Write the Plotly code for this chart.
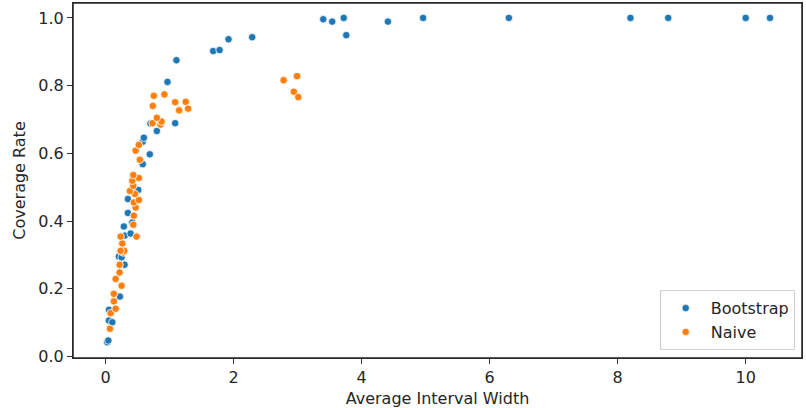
import plotly.graph_objects as go

boot_x = [0.026, 0.042, 0.051, 0.104, 0.052, 0.223, 0.207, 0.296, 0.249, 0.30, 0.39, 0.285,
          0.416, 0.348, 0.348, 0.51, 0.58, 0.69, 0.577, 0.597, 0.70, 0.80, 1.086, 0.966,
          1.106, 1.68, 1.78, 1.92, 2.29, 3.40, 3.54, 3.72, 3.76, 4.41, 4.96, 6.30, 8.20,
          8.79, 10.0, 10.38]
boot_y = [0.042, 0.047, 0.106, 0.101, 0.138, 0.177, 0.295, 0.271, 0.293, 0.357, 0.363, 0.384,
          0.396, 0.424, 0.465, 0.492, 0.568, 0.597, 0.634, 0.646, 0.688, 0.666, 0.689, 0.811,
          0.875, 0.902, 0.905, 0.937, 0.943, 0.996, 0.989, 1.0, 0.949, 0.989, 1.0, 1.0, 1.0,
          1.0, 1.0, 1.0]

naive_x = [0.067, 0.078, 0.156, 0.129, 0.129, 0.249, 0.156, 0.218, 0.218, 0.276, 0.291, 0.234,
           0.26, 0.234, 0.483, 0.432, 0.441, 0.468, 0.441, 0.519, 0.457, 0.379, 0.432, 0.416,
           0.519, 0.432, 0.535, 0.468, 0.519, 0.857, 0.873, 0.732, 0.80, 0.737, 0.753, 0.919,
           1.086, 1.251, 1.149, 1.289, 2.78, 2.99, 2.94, 3.01]
naive_y = [0.082, 0.128, 0.141, 0.163, 0.185, 0.209, 0.229, 0.248, 0.271, 0.307, 0.312, 0.312,
           0.334, 0.354, 0.354, 0.389, 0.416, 0.44, 0.455, 0.462, 0.48, 0.489, 0.504, 0.519,
           0.527, 0.536, 0.581, 0.608, 0.625, 0.685, 0.694, 0.689, 0.705, 0.740, 0.770, 0.774,
           0.751, 0.752, 0.727, 0.732, 0.816, 0.828, 0.782, 0.766]

font = "DejaVu Sans"
fig = go.Figure()
fig.add_trace(go.Scatter(x=boot_x, y=boot_y, mode="markers", name="Bootstrap",
                         marker=dict(color="#1f77b4", size=7.5, line=dict(color="white", width=0.8))))
fig.add_trace(go.Scatter(x=naive_x, y=naive_y, mode="markers", name="Naive",
                         marker=dict(color="#ff7f0e", size=7.5, line=dict(color="white", width=0.8))))

axis_common = dict(showgrid=False, zeroline=False, showline=True, linecolor="#333333", linewidth=1.2,
                   mirror=True, ticks="outside", ticklen=5, tickcolor="#333333",
                   tickfont=dict(family=font, size=16, color="#262626"))
fig.update_xaxes(range=[-0.51, 10.88], tickvals=[0, 2, 4, 6, 8, 10],
                 title=dict(text="Average Interval Width", font=dict(family=font, size=16, color="#262626"), standoff=6),
                 **axis_common)
fig.update_yaxes(range=[-0.0045, 1.044], tickvals=[0, 0.2, 0.4, 0.6, 0.8, 1.0], tickformat=".1f",
                 title=dict(text="Coverage Rate", font=dict(family=font, size=16, color="#262626"), standoff=8),
                 **axis_common)
fig.add_shape(type="rect", xref="paper", yref="paper", x0=0, y0=0, x1=1, y1=1,
              line=dict(color="#262626", width=1.5), fillcolor="rgba(0,0,0,0)", layer="above")
fig.update_layout(width=806, height=408, margin=dict(l=73, r=4, t=3, b=50, autoexpand=False),
                  plot_bgcolor="white", paper_bgcolor="white",
                  font=dict(family=font, size=16, color="#262626"),
                  legend=dict(x=0.99, y=0.022, xanchor="right", yanchor="bottom",
                              bordercolor="#d0d0d0", borderwidth=1, bgcolor="rgba(255,255,255,0.8)",
                              font=dict(family=font, size=16), itemwidth=40),
                  showlegend=True)
fig.write_html("out.html", config={"displayModeBar": False},
               post_script="document.body.style.margin='0';document.body.style.padding='0';")
